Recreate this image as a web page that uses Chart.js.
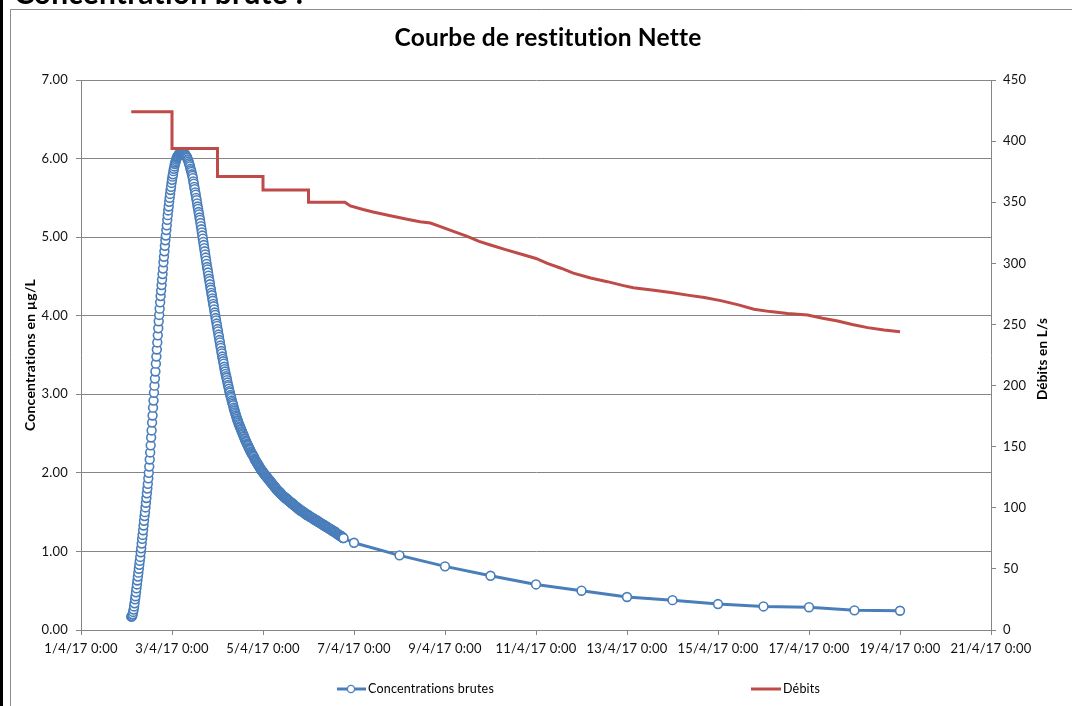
<!DOCTYPE html>
<html lang="fr">
<head>
<meta charset="utf-8">
<title>Courbe de restitution Nette</title>
<script src="https://cdn.jsdelivr.net/npm/chart.js@4.4.1/dist/chart.umd.min.js"></script>
<style>
  html, body { margin: 0; padding: 0; background: #fff; }
  canvas { display: block; }
</style>
</head>
<body>
<canvas id="courbe" width="1072" height="706"></canvas>
<script>
// temps en jours depuis le 1/4/17 0:00
// concentrations brutes : une mesure toutes les 15 min à partir du 2/4/17 2:30
const concDebut = 1 + 2.5 / 24;
const concPas = 15 / (24 * 60);
const concBrutes = [
  0.17, 0.17,
  0.18, 0.20, 0.23, 0.26, 0.30, 0.34, 0.39, 0.43, 0.48, 0.53, 0.58, 0.63,
  0.68, 0.73, 0.78, 0.83, 0.88, 0.93, 0.99, 1.04, 1.10, 1.16, 1.21, 1.27,
  1.33, 1.39, 1.45, 1.50, 1.56, 1.62, 1.68, 1.74, 1.80, 1.86, 1.93, 2.00,
  2.08, 2.17, 2.26, 2.35, 2.45, 2.54, 2.64, 2.73, 2.83, 2.92, 3.02, 3.11,
  3.20, 3.29, 3.39, 3.48, 3.57, 3.66, 3.75, 3.84, 3.93, 4.01, 4.09, 4.17,
  4.25, 4.32, 4.39, 4.46, 4.53, 4.60, 4.68, 4.75, 4.82, 4.89, 4.96, 5.02,
  5.09, 5.15, 5.22, 5.28, 5.34, 5.39, 5.45, 5.50, 5.55, 5.60, 5.64, 5.69,
  5.73, 5.77, 5.80, 5.84, 5.87, 5.90, 5.93, 5.95, 5.97, 5.99, 6.01, 6.02,
  6.03, 6.04, 6.05, 6.06, 6.06, 6.06, 6.07, 6.07, 6.07, 6.07, 6.07, 6.07,
  6.07, 6.07, 6.06, 6.06, 6.05, 6.04, 6.03, 6.02, 6.01, 5.99, 5.98, 5.96,
  5.94, 5.92, 5.90, 5.87, 5.85, 5.83, 5.80, 5.78, 5.75, 5.71, 5.68, 5.64,
  5.61, 5.57, 5.54, 5.50, 5.47, 5.43, 5.39, 5.36, 5.32, 5.29, 5.25, 5.22,
  5.18, 5.14, 5.10, 5.06, 5.02, 4.98, 4.94, 4.90, 4.86, 4.82, 4.78, 4.74,
  4.70, 4.66, 4.62, 4.59, 4.55, 4.51, 4.47, 4.44, 4.40, 4.36, 4.33, 4.29,
  4.26, 4.22, 4.19, 4.15, 4.12, 4.08, 4.04, 4.01, 3.97, 3.94, 3.90, 3.87,
  3.83, 3.80, 3.76, 3.73, 3.69, 3.66, 3.62, 3.59, 3.55, 3.52, 3.48, 3.45,
  3.42, 3.39, 3.35, 3.32, 3.29, 3.26, 3.23, 3.21, 3.18, 3.15, 3.12, 3.10,
  3.07, 3.04, 3.02, 2.99, 2.97, 2.95, 2.92, 2.90, 2.88, 2.86, 2.83, 2.81,
  2.79, 2.77, 2.75, 2.73, 2.71, 2.69, 2.67, 2.66, 2.64, 2.62, 2.61, 2.59,
  2.58, 2.56, 2.55, 2.53, 2.52, 2.50, 2.49, 2.47, 2.46, 2.44, 2.43, 2.41,
  2.40, 2.39, 2.37, 2.36, 2.35, 2.34, 2.32, 2.31, 2.30, 2.29, 2.27, 2.26,
  2.25, 2.24, 2.23, 2.22, 2.21, 2.20, 2.18, 2.17, 2.16, 2.15, 2.14, 2.13,
  2.12, 2.11, 2.10, 2.09, 2.08, 2.07, 2.06, 2.05, 2.04, 2.03, 2.02, 2.02,
  2.01, 2.00, 1.99, 1.98, 1.98, 1.97, 1.96, 1.95, 1.95, 1.94, 1.93, 1.92,
  1.92, 1.91, 1.90, 1.89, 1.89, 1.88, 1.87, 1.86, 1.86, 1.85, 1.84, 1.83,
  1.83, 1.82, 1.81, 1.80, 1.80, 1.79, 1.78, 1.78, 1.77, 1.76, 1.76, 1.75,
  1.75, 1.74, 1.73, 1.73, 1.72, 1.71, 1.71, 1.70, 1.70, 1.69, 1.69, 1.68,
  1.68, 1.67, 1.67, 1.66, 1.66, 1.65, 1.65, 1.64, 1.64, 1.63, 1.63, 1.62,
  1.62, 1.61, 1.61, 1.60, 1.60, 1.59, 1.59, 1.58, 1.58, 1.57, 1.57, 1.56,
  1.56, 1.55, 1.55, 1.54, 1.54, 1.53, 1.53, 1.52, 1.52, 1.52, 1.51, 1.51,
  1.51, 1.50, 1.50, 1.49, 1.49, 1.48, 1.48, 1.47, 1.47, 1.47, 1.46, 1.46,
  1.46, 1.45, 1.45, 1.44, 1.44, 1.44, 1.43, 1.43, 1.43, 1.42, 1.42, 1.41,
  1.41, 1.41, 1.40, 1.40, 1.40, 1.39, 1.39, 1.38, 1.38, 1.38, 1.37, 1.37,
  1.37, 1.36, 1.36, 1.35, 1.35, 1.35, 1.34, 1.34, 1.34, 1.33, 1.33, 1.32,
  1.32, 1.32, 1.31, 1.31, 1.31, 1.30, 1.30, 1.29, 1.29, 1.29, 1.28, 1.28,
  1.28, 1.27, 1.27, 1.26, 1.26, 1.26, 1.25, 1.25, 1.25, 1.24, 1.24, 1.23,
  1.23, 1.22, 1.22, 1.21, 1.21, 1.21, 1.20, 1.20, 1.20, 1.19, 1.19, 1.18,
  1.18, 1.17, 1.17
];
// puis un prélèvement par jour, du 7/4 au 19/4 à 0:00
const concJours = [6, 7, 8, 9, 10, 11, 12, 13, 14, 15, 16, 17, 18];
const concValeurs = [1.11, 0.95, 0.81, 0.69, 0.58, 0.50, 0.42, 0.38, 0.33, 0.30, 0.29, 0.25, 0.245];

// débits (L/s)
const debitJours = [1.104, 2, 2, 3, 3, 4, 4, 5, 5, 5.8, 5.92, 6.2, 6.42, 6.8, 7.17, 7.45, 7.68,
  7.9, 8.2, 8.49, 8.75, 9.0, 9.35, 9.72, 10.0, 10.25, 10.55, 10.82, 11.2, 11.57, 11.9,
  12.14, 12.59, 13.0, 13.33, 13.7, 14.06, 14.45, 14.79, 15.15, 15.53, 15.97, 16.3,
  16.63, 16.95, 17.29, 17.65, 18.0];
const debitValeurs = [424, 424, 394, 394, 371, 371, 360, 360, 350, 350, 347, 344, 342, 339, 336, 334, 333,
  330, 326, 322, 318, 315, 311, 307, 304, 300, 296, 292, 288, 285, 282,
  280, 278, 276, 274, 272, 269.5, 266, 262.4, 260.5, 259, 257.7, 255,
  252.8, 250, 247.4, 245.5, 244];

const etiquettesX = ['1/4/17 0:00', '3/4/17 0:00', '5/4/17 0:00', '7/4/17 0:00', '9/4/17 0:00',
  '11/4/17 0:00', '13/4/17 0:00', '15/4/17 0:00', '17/4/17 0:00', '19/4/17 0:00', '21/4/17 0:00'];

const bleu = '#4A7EBB';
const rouge = '#BE4B48';
const gris = '#868686';
const police = 'Lato, "Open Sans", sans-serif';

const concPoints = concBrutes.map((v, i) => ({ x: concDebut + i * concPas, y: v }))
  .concat(concJours.map((j, i) => ({ x: j, y: concValeurs[i] })));
const debitPoints = debitJours.map((j, i) => ({ x: j, y: debitValeurs[i] }));

const decor = {
  id: 'decor',
  beforeDraw(chart) {
    // un léger espacement coupe les ligatures "ti" de Lato
    chart.ctx.letterSpacing = '0.2px';
  },
  afterDraw(chart) {
    const c = chart.ctx;
    c.save();
    // bord de la feuille et du graphique
    c.fillStyle = '#000';
    c.fillRect(0, 0, 3, 706);
    c.strokeStyle = '#8c8c8c';
    c.lineWidth = 1;
    c.beginPath();
    c.moveTo(10.5, 706);
    c.lineTo(10.5, 9.5);
    c.lineTo(1072, 9.5);
    c.stroke();
    // titre de la feuille, coupé en haut
    c.fillStyle = '#000';
    c.font = 'bold 30px ' + police;
    c.textBaseline = 'alphabetic';
    c.fillText('Concentration brute :', 14, 4);

    // titre du graphique
    c.font = 'bold 24.5px ' + police;
    c.textAlign = 'center';
    c.textBaseline = 'middle';
    c.fillText('Courbe de restitution Nette', 548, 38);

    // titre de l'axe secondaire
    c.save();
    c.translate(1043, 359);
    c.rotate(-Math.PI / 2);
    c.font = 'bold 13.5px ' + police;
    c.fillText('Débits en L/s', 0, 0);
    c.restore();

    // légende
    const y = 689;
    c.font = '12.5px ' + police;
    c.textBaseline = 'middle';
    c.textAlign = 'left';
    c.lineWidth = 3;
    c.strokeStyle = bleu;
    c.beginPath(); c.moveTo(337, y); c.lineTo(366, y); c.stroke();
    c.beginPath(); c.arc(351, y, 3.6, 0, Math.PI * 2);
    c.fillStyle = '#fff'; c.fill();
    c.lineWidth = 1.3; c.stroke();
    c.fillStyle = '#000';
    c.fillText('Concentrations brutes', 368, y);
    c.lineWidth = 3;
    c.strokeStyle = rouge;
    c.beginPath(); c.moveTo(751, y); c.lineTo(781, y); c.stroke();
    c.fillText('Débits', 783, y);
    c.restore();
  }
};

new Chart(document.getElementById('courbe'), {
  type: 'scatter',
  data: {
    datasets: [
      {
        label: 'Débits',
        data: debitPoints,
        yAxisID: 'y2',
        showLine: true,
        borderColor: rouge,
        borderWidth: 3,
        pointRadius: 0,
        order: 1
      },
      {
        label: 'Concentrations brutes',
        data: concPoints,
        yAxisID: 'y',
        showLine: true,
        borderColor: bleu,
        borderWidth: 3,
        pointRadius: 4.4,
        pointBorderWidth: 1.6,
        pointBackgroundColor: '#fff',
        pointBorderColor: bleu,
        order: 2
      }
    ]
  },
  options: {
    responsive: false,
    animation: false,
    devicePixelRatio: 1,
    layout: { padding: { left: 18, right: 17, top: 80, bottom: 0 } },
    plugins: {
      legend: { display: false },
      tooltip: { enabled: false },
      title: { display: false }
    },
    scales: {
      x: {
        type: 'linear',
        min: 0,
        max: 20,
        afterFit: s => { s.height = 76; },
        afterBuildTicks: s => { s.ticks = etiquettesX.map((e, i) => ({ value: i * 2 })); },
        ticks: {
          callback: v => etiquettesX[Math.round(v / 2)],
          color: '#111',
          font: { family: police, size: 13 },
          padding: 6,
          maxRotation: 0,
          autoSkip: false
        },
        grid: { drawOnChartArea: false, color: gris, tickLength: 5 },
        border: { color: gris }
      },
      y: {
        position: 'left',
        min: 0,
        max: 7,
        afterFit: s => { s.width = 63; },
        ticks: {
          stepSize: 1,
          callback: v => v.toFixed(2),
          color: '#111',
          font: { family: police, size: 13 },
          padding: 8
        },
        grid: { color: gris, tickLength: 5 },
        border: { color: gris },
        title: {
          display: true,
          text: 'Concentrations en µg/L',
          color: '#000',
          font: { family: police, size: 14, weight: 'bold' },
          padding: { top: 4, bottom: 0 }
        }
      },
      y2: {
        position: 'right',
        min: 0,
        max: 450,
        afterFit: s => { s.width = 64; },
        ticks: {
          stepSize: 50,
          color: '#111',
          font: { family: police, size: 13 },
          padding: 7
        },
        grid: { drawOnChartArea: false, color: gris, tickLength: 5 },
        border: { color: gris }
      }
    }
  },
  plugins: [decor]
});
</script>
</body>
</html>
